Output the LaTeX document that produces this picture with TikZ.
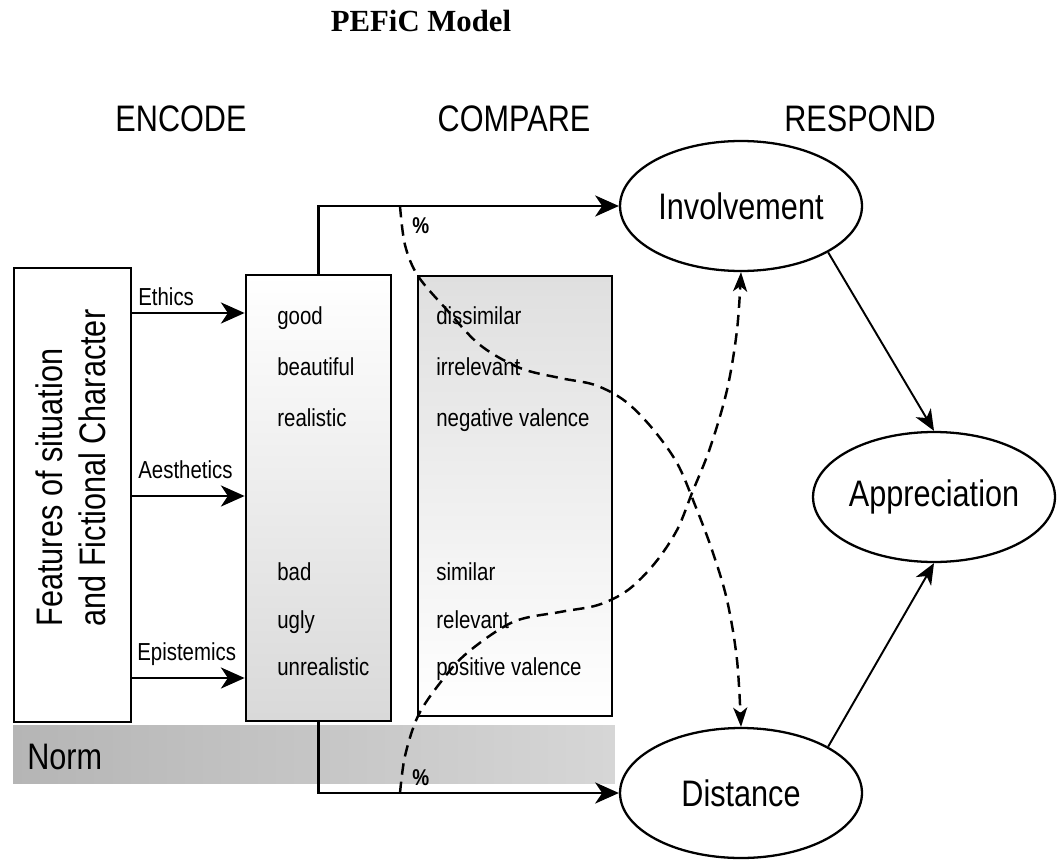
\documentclass[tikz,border=0pt]{standalone}
\usepackage{fontspec}
\setmainfont{Liberation Sans}[FakeStretch=0.83]
\newfontfamily\titlefont{Liberation Serif}
\usetikzlibrary{arrows.meta,shapes.geometric,calc}

\begin{document}
\begin{tikzpicture}[
  x=0.02cm, y=-0.02cm,
  big/.style={font=\fontsize{21}{24.5}\selectfont},
  small/.style={font=\fontsize{14}{17}\selectfont},
  txt/.style={inner sep=0pt},
  box/.style={draw, rectangle, line width=1.6pt, inner sep=0pt},
  oval/.style={draw, ellipse, line width=1.3pt, inner sep=0pt,
    minimum width=4.84cm, minimum height=2.6cm, big},
  arr/.style={line width=1.5pt, -{Stealth[length=13.5pt, width=12pt, inset=4pt]}},
  diag/.style={line width=1.1pt, -{Stealth[length=12pt, width=10pt, inset=3.5pt]}},
  dashcurve/.style={line width=1.4pt, dash pattern=on 6.5pt off 4pt,
    -{Stealth[length=11pt, width=8pt, inset=3pt]}},
  pct/.style={txt, font=\bfseries\fontsize{13}{15}\selectfont}
]
\useasboundingbox (0,0) rectangle (1060,861);

% title and stage headings
\node[txt, anchor=base, font=\titlefont\bfseries\fontsize{17.5}{20}\selectfont] (title) at (421,32) {PEFiC Model};
\node[txt, big, anchor=base] (hEnc) at (181,132) {ENCODE};
\node[txt, big, anchor=base] (hCmp) at (514,132) {COMPARE};
\node[txt, big, anchor=base] (hRes) at (860,132) {RESPOND};

% norm band along the bottom
\node[rectangle, inner sep=0pt, minimum width=12.04cm, minimum height=1.16cm,
      left color=gray!58, right color=gray!32] (norm) at (314,754) {};
\node[txt, big, anchor=base west] (normtxt) at (27,769) {Norm};

% features box
\node[box, fill=white, minimum width=2.34cm, minimum height=9.08cm] (feat) at (72.5,495) {};
\node[big, rotate=90, align=left] (feattxt) at (71,468) {Features of situation\\and Fictional Character};

% encode and compare boxes
\node[box, minimum width=2.9cm, minimum height=8.92cm,
      top color=white, bottom color=gray!30] (enc) at (318.5,498) {};
\node[box, minimum width=3.88cm, minimum height=8.8cm,
      top color=gray!25, bottom color=white] (cmp) at (515,496) {};

\foreach \w/\y in {good/324, beautiful/375, realistic/426, bad/580, ugly/628, unrealistic/675}
  \node[txt, small, anchor=base west] (e-\y) at (277,\y) {\w};
\foreach \w/\y in {dissimilar/324, irrelevant/375, negative valence/426, similar/580, relevant/628, positive valence/675}
  \node[txt, small, anchor=base west] (c-\y) at (436,\y) {\w};

% dimension arrows
\coordinate (lvE) at (0,313);
\coordinate (lvA) at (0,496);
\coordinate (lvP) at (0,678);
\draw[arr] (feat.east |- lvE) -- (enc.west |- lvE);
\draw[arr] (feat.east |- lvA) -- (enc.west |- lvA);
\draw[arr] (feat.east |- lvP) -- (enc.west |- lvP);
\node[txt, small, anchor=base west] (lblE) at (138,305) {Ethics};
\node[txt, small, anchor=base west] (lblA) at (138,478) {Aesthetics};
\node[txt, small, anchor=base west] (lblP) at (137,660) {Epistemics};

% responses
\node[oval] (inv) at (741,206) {Involvement};
\node[oval] (app) at (934,497) {Appreciation};
\node[oval] (dist) at (741,793) {Distance};

\draw[arr] (enc.north) -- (enc.north |- inv.west) -- (inv.west);
\draw[arr] (enc.south) -- (enc.south |- dist.west) -- (dist.west);
\draw[diag] (inv.-28) -- (app.north);
\draw[diag] (dist.28) -- (app.south);

% crossing dashed paths
\coordinate (ta) at (400,206);
\coordinate (tb) at (400,793);
\draw[dashcurve] plot[smooth, tension=0.55] coordinates {
  (ta) (405,245) (418,276) (447,310) (480,345) (520,368) (560,378) (595,385)
  (625,401) (652,428) (677,463) (695,505) (712,550) (727,600) (737,660) (dist.north)};
\draw[dashcurve] plot[smooth, tension=0.55] coordinates {
  (tb) (405,756) (418,716) (440,683) (467,653) (513,622) (560,612) (598,605)
  (628,590) (655,563) (677,530) (692,493) (710,448) (727,390) (737,330) (inv.south)};
\node[pct, anchor=west] (pctTop) at (412,226) {\%};
\node[pct, anchor=west] (pctBot) at (412,778) {\%};
\end{tikzpicture}
\end{document}
